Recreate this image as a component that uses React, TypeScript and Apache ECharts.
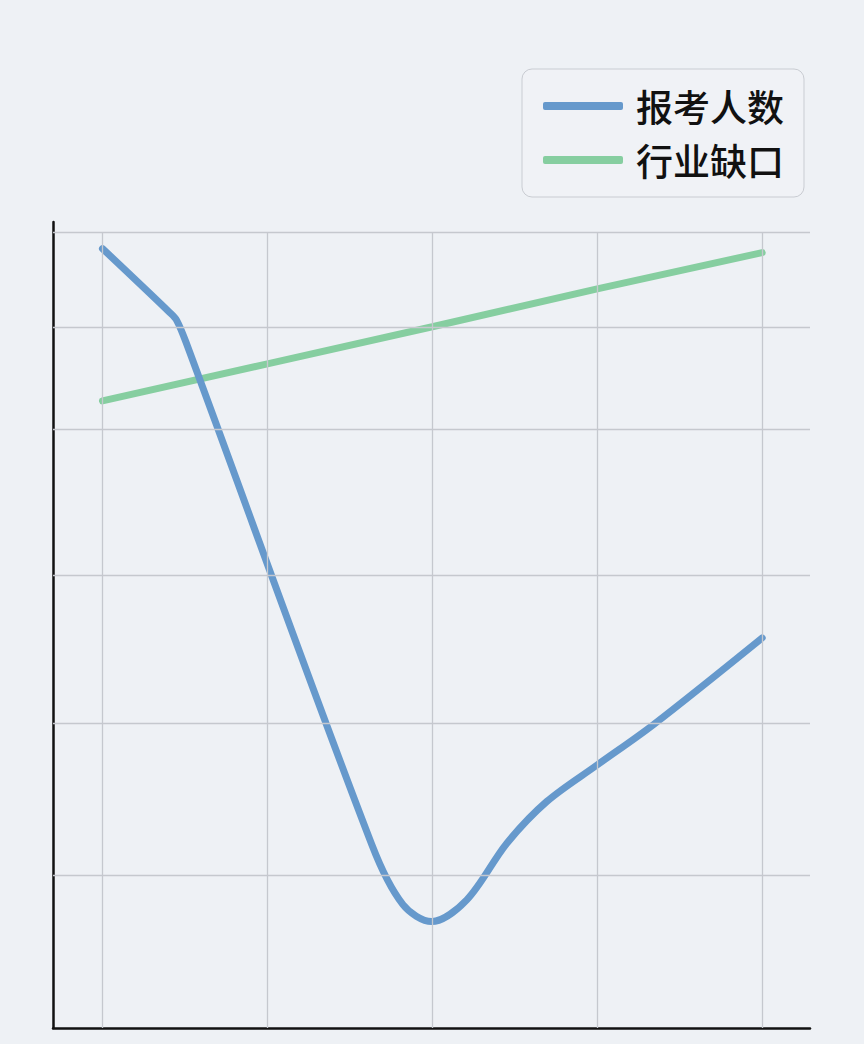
import { useEffect, useRef } from "react";
import * as echarts from "echarts";

// 图例名称
const seriesNames = ["报考人数", "行业缺口"];

// 报考人数 (x 为类目位置, y 为数值)
const applicantX = [0, 0.409, 0.45, 0.506, 1.634, 1.822, 1.996, 2.209, 2.451, 2.694, 2.997, 3.338, 4.0];
const applicantY = [96.7, 88.75, 87.8, 85.1, 22.7, 15.3, 13.2, 15.9, 22.9, 28.1, 32.6, 37.6, 48.4];

// 行业缺口
const gapX = [0, 1, 2, 3, 4];
const gapY = [77.8, 82.4, 87.0, 91.7, 96.2];

// 网格线位置
const verticalLines = [0, 1, 2, 3, 4];
const horizontalLines = [98.7, 86.9, 74.3, 56.2, 37.8, 18.9];

const toPairs = (xs: number[], ys: number[]) => xs.map((x, i) => [x, ys[i]]);

export default function App() {
  const chartRef = useRef<HTMLDivElement>(null);

  useEffect(() => {
    if (!chartRef.current) return;
    const chart = echarts.init(chartRef.current, null, { renderer: "svg" });

    const gridColor = "#c5c8ce";
    const topLine = horizontalLines[0];

    const option: echarts.EChartsOption = {
      animation: false,
      backgroundColor: "#eef1f5",
      textStyle: {
        fontFamily: "'Noto Sans CJK SC', 'Noto Sans', sans-serif",
      },
      grid: { left: 53, right: 54, top: 222, bottom: 16 },
      legend: {
        data: seriesNames,
        orient: "vertical",
        left: 522,
        top: 69,
        padding: [17, 20, 17, 21],
        itemWidth: 80,
        itemHeight: 8,
        itemGap: 14,
        icon: "roundRect",
        backgroundColor: "#f0f2f6",
        borderColor: "#c9ccd2",
        borderWidth: 1,
        borderRadius: 10,
        textStyle: {
          fontSize: 37,
          fontWeight: 500,
          lineHeight: 40,
          color: "#111",
          padding: [0, 0, 0, 8],
        },
      },
      xAxis: {
        type: "value",
        min: -0.3,
        max: 4.29,
        axisLine: { show: true, onZero: false, lineStyle: { color: "#111", width: 2.5 } },
        axisTick: { show: false },
        axisLabel: { show: false },
        splitLine: { show: false },
      },
      yAxis: {
        type: "value",
        min: 0,
        max: 100,
        axisLine: { show: true, onZero: false, lineStyle: { color: "#111", width: 2.5 } },
        axisTick: { show: false },
        axisLabel: { show: false },
        splitLine: { show: false },
      },
      series: [
        {
          name: "grid",
          type: "line",
          data: [],
          z: 1,
          silent: true,
          markLine: {
            silent: true,
            symbol: "none",
            label: { show: false },
            lineStyle: { color: gridColor, width: 1.3, type: "solid" },
            data: [
              ...horizontalLines.map((v) => ({ yAxis: v })),
              ...verticalLines.map((x) => [
                { coord: [x, 0] },
                { coord: [x, topLine] },
              ]),
            ] as any,
          },
        },
        {
          name: seriesNames[1],
          type: "line",
          data: toPairs(gapX, gapY),
          showSymbol: false,
          z: 3,
          color: "#86cea0",
          lineStyle: { width: 7, color: "#86cea0", cap: "round" },
        },
        {
          name: seriesNames[0],
          type: "line",
          data: toPairs(applicantX, applicantY),
          showSymbol: false,
          smooth: 0.32,
          z: 4,
          color: "#6699cc",
          lineStyle: { width: 7, color: "#6699cc", cap: "round", join: "round" },
        },
      ],
    };

    chart.setOption(option);
    return () => chart.dispose();
  }, []);

  return (
    <div
      ref={chartRef}
      style={{ position: "absolute", left: 0, top: 0, width: 864, height: 1044 }}
    />
  );
}
